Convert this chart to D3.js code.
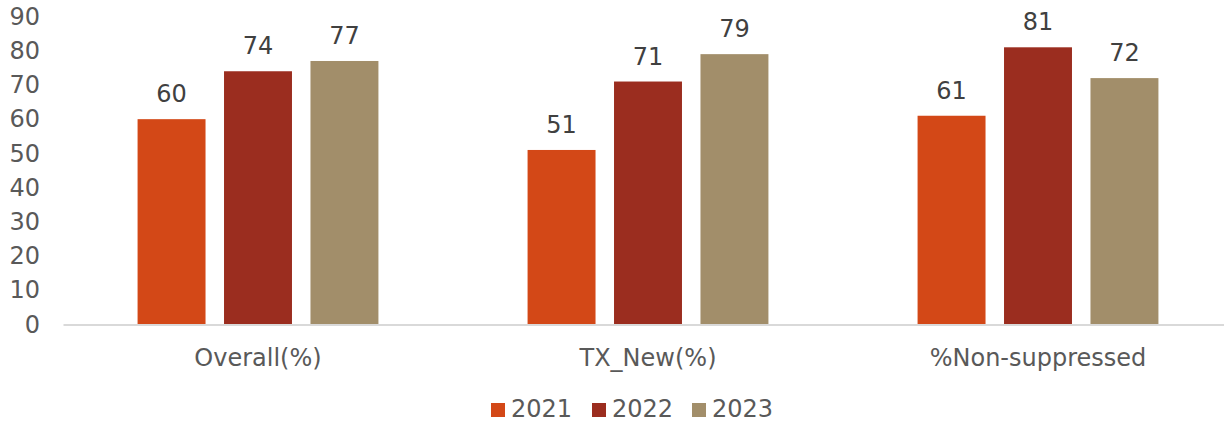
<!DOCTYPE html>
<html>
<head>
<meta charset="utf-8">
<script src="https://cdn.jsdelivr.net/npm/d3@7"></script>
<style>
  html, body { margin: 0; padding: 0; background: #fff; }
  svg { display: block; font-family: "DejaVu Sans", Verdana, sans-serif; }
</style>
</head>
<body>
<svg id="chart" width="1224" height="423"></svg>
<script>
// Categories, years and values per year
const categories = ["Overall(%)", "TX_New(%)", "%Non-suppressed"];
const years = ["2021", "2022", "2023"];
const values2021 = [60, 51, 61];
const values2022 = [74, 71, 81];
const values2023 = [77, 79, 72];
const yTicks = [0, 10, 20, 30, 40, 50, 60, 70, 80, 90];
const colors = ["#D34817", "#9B2D1F", "#A28E6A"];

const seriesValues = [values2021, values2022, values2023];
const rows = categories.map((c, i) => ({
  category: c,
  bars: years.map((y, j) => ({ year: y, value: seriesValues[j][i], color: colors[j] }))
}));

const svg = d3.select("#chart");

const x0 = d3.scaleBand()
  .domain(categories)
  .range([63, 1233])
  .paddingInner(0.335)
  .paddingOuter(0.1675);

const x1 = d3.scaleBand()
  .domain(years)
  .range([0, x0.bandwidth()])
  .paddingInner(0.214)
  .paddingOuter(0.107);

const y = d3.scaleLinear().domain([0, 90]).range([324.5, 16.5]);

// Y axis labels (no axis line, no ticks)
const yAxis = svg.append("g")
  .attr("transform", "translate(40,0)")
  .call(d3.axisLeft(y).tickValues(yTicks).tickSize(0).tickPadding(0));
yAxis.select(".domain").remove();
yAxis.selectAll("text")
  .attr("fill", "#595959")
  .style("font-size", "24px")
  .style("font-family", "'DejaVu Sans', Verdana, sans-serif");

// Bars
const groups = svg.append("g").selectAll("g")
  .data(rows)
  .join("g")
  .attr("transform", d => `translate(${x0(d.category)},0)`);

groups.selectAll("rect")
  .data(d => d.bars)
  .join("rect")
  .attr("x", d => x1(d.year))
  .attr("width", x1.bandwidth())
  .attr("y", d => y(d.value))
  .attr("height", d => y(0) - y(d.value))
  .attr("fill", d => d.color);

// Value labels
groups.selectAll("text.value")
  .data(d => d.bars)
  .join("text")
  .attr("class", "value")
  .attr("x", d => x1(d.year) + x1.bandwidth() / 2)
  .attr("y", d => y(d.value) - 17)
  .attr("text-anchor", "middle")
  .attr("fill", "#404040")
  .style("font-size", "24px")
  .text(d => d.value);

// X axis baseline and category labels
const xAxis = svg.append("g")
  .attr("transform", `translate(0,${y(0)})`)
  .call(d3.axisBottom(x0).tickSize(0).tickPadding(0));
xAxis.select(".domain")
  .attr("stroke", "#D9D9D9")
  .attr("stroke-width", 2);
xAxis.selectAll("text")
  .attr("dy", null)
  .attr("y", 41)
  .attr("fill", "#595959")
  .style("font-size", "24px")
  .style("font-family", "'DejaVu Sans', Verdana, sans-serif");

// Legend
const legendX = d3.scaleOrdinal().domain(years).range([491, 592, 692]);
const legend = svg.append("g").selectAll("g")
  .data(years.map((yr, j) => ({ year: yr, color: colors[j] })))
  .join("g")
  .attr("transform", d => `translate(${legendX(d.year)},403)`);
legend.append("rect")
  .attr("width", 14).attr("height", 14)
  .attr("fill", d => d.color);
legend.append("text")
  .attr("x", 20).attr("y", 14)
  .attr("fill", "#595959")
  .style("font-size", "24px")
  .text(d => d.year);
</script>
</body>
</html>
